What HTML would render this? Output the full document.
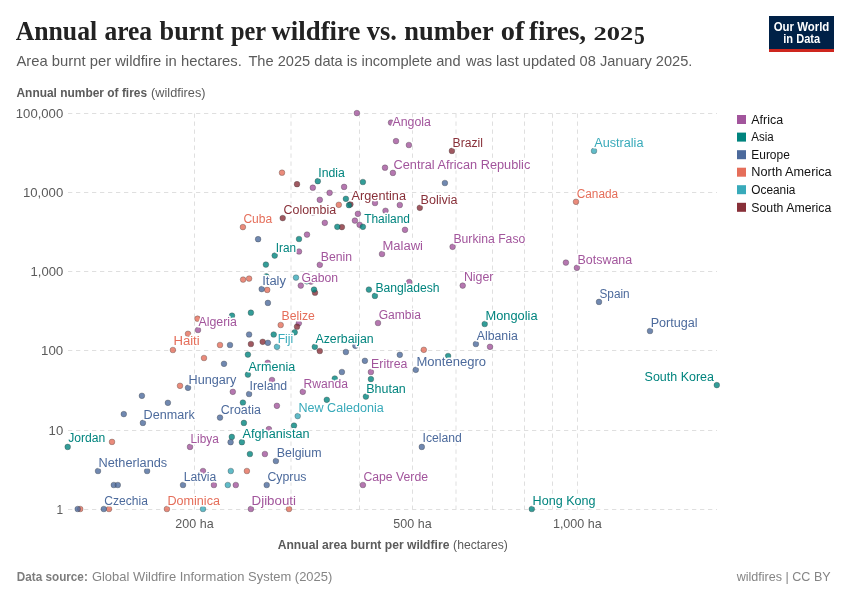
<!DOCTYPE html>
<html lang="en"><head><meta charset="utf-8"><title>Annual area burnt per wildfire vs. number of fires, 2025</title>
<style>
html,body{margin:0;padding:0;background:#fff}
svg{display:block}
text{font-family:"Liberation Sans",Arial,sans-serif}
.t,.t text{font-family:"Liberation Serif","Times New Roman",serif;font-weight:700}
.lb{font-size:12px;stroke:#fff;stroke-width:3px;stroke-linejoin:round;paint-order:stroke fill}
.g{stroke:#dfdfdf;stroke-width:1;stroke-dasharray:4.3 3.7;fill:none}
.tk{font-size:13.6px;fill:#5b5b5b}
.lg{font-size:12.5px;fill:#111}
</style></head><body>
<svg width="850" height="600" viewBox="0 0 850 600">
<rect width="850" height="600" fill="#fff"/>
<g class="t" font-size="27" fill="#222"><text x="15.7" y="40.2" textLength="81.5" lengthAdjust="spacingAndGlyphs">Annual</text>
<text x="104.4" y="40.2" textLength="47.7" lengthAdjust="spacingAndGlyphs">area</text>
<text x="159.6" y="40.2" textLength="64.1" lengthAdjust="spacingAndGlyphs">burnt</text>
<text x="230.9" y="40.2" textLength="35.2" lengthAdjust="spacingAndGlyphs">per</text>
<text x="271.5" y="40.2" textLength="88.8" lengthAdjust="spacingAndGlyphs">wildfire</text>
<text x="366.7" y="40.2" textLength="30.1" lengthAdjust="spacingAndGlyphs">vs.</text>
<text x="404.3" y="40.2" textLength="89.5" lengthAdjust="spacingAndGlyphs">number</text>
<text x="500.7" y="40.2" textLength="23.7" lengthAdjust="spacingAndGlyphs">of</text>
<text x="529.0" y="40.2" textLength="57.1" lengthAdjust="spacingAndGlyphs">fires,</text>
<text x="593.4" y="40.2" font-size="19.4" textLength="39.8" lengthAdjust="spacingAndGlyphs">202</text><text x="634" y="43.6" font-size="24.6" textLength="10.8" lengthAdjust="spacingAndGlyphs">5</text></g>
<g font-size="14.4" fill="#5b5b5b"><text x="16.5" y="66.4" textLength="225.3" lengthAdjust="spacingAndGlyphs">Area burnt per wildfire in hectares.</text>
<text x="248.4" y="66.4" textLength="212.2" lengthAdjust="spacingAndGlyphs">The 2025 data is incomplete and</text>
<text x="466" y="66.4" textLength="226.4" lengthAdjust="spacingAndGlyphs">was last updated 08 January 2025.</text></g>
<g><rect x="769" y="16" width="65" height="36" fill="#002147"/><rect x="769" y="49" width="65" height="3" fill="#ce261e"/>
<text x="801.5" y="30.8" font-size="12.5" font-weight="700" fill="#fff" text-anchor="middle" textLength="55.6" lengthAdjust="spacingAndGlyphs">Our World</text>
<text x="801.7" y="42.6" font-size="12.5" font-weight="700" fill="#fff" text-anchor="middle" textLength="36.9" lengthAdjust="spacingAndGlyphs">in Data</text></g>
<text x="16.5" y="97" font-size="12.6" fill="#5b5b5b" font-weight="700" textLength="130.6" lengthAdjust="spacingAndGlyphs">Annual number of fires</text>
<text x="151.1" y="97" font-size="12.6" fill="#5b5b5b" textLength="54.4" lengthAdjust="spacingAndGlyphs">(wildfires)</text>
<g class="g"><line x1="68" x2="717" y1="113.5" y2="113.5"/><line x1="68" x2="717" y1="192.5" y2="192.5"/><line x1="68" x2="717" y1="271.5" y2="271.5"/><line x1="68" x2="717" y1="350.5" y2="350.5"/><line x1="68" x2="717" y1="430.5" y2="430.5"/><line x1="68" x2="717" y1="509.5" y2="509.5"/><line x1="194.5" x2="194.5" y1="113.5" y2="509.5"/><line x1="291.0" x2="291.0" y1="113.5" y2="509.5"/><line x1="359.5" x2="359.5" y1="113.5" y2="509.5"/><line x1="412.5" x2="412.5" y1="113.5" y2="509.5"/><line x1="456.0" x2="456.0" y1="113.5" y2="509.5"/><line x1="492.5" x2="492.5" y1="113.5" y2="509.5"/><line x1="524.5" x2="524.5" y1="113.5" y2="509.5"/><line x1="552.5" x2="552.5" y1="113.5" y2="509.5"/><line x1="577.5" x2="577.5" y1="113.5" y2="509.5"/></g>
<text class="tk" x="15.8" y="118.0" textLength="47.4" lengthAdjust="spacingAndGlyphs">100,000</text>
<text class="tk" x="23.0" y="197.0" textLength="40.2" lengthAdjust="spacingAndGlyphs">10,000</text>
<text class="tk" x="30.5" y="276.0" textLength="32.7" lengthAdjust="spacingAndGlyphs">1,000</text>
<text class="tk" x="41.1" y="355.0" textLength="22.1" lengthAdjust="spacingAndGlyphs">100</text>
<text class="tk" x="48.6" y="435.0" textLength="14.6" lengthAdjust="spacingAndGlyphs">10</text>
<text class="tk" x="56.6" y="514.0" textLength="6.6" lengthAdjust="spacingAndGlyphs">1</text>
<text class="tk" x="175.3" y="527.5" textLength="38.3" lengthAdjust="spacingAndGlyphs">200 ha</text>
<text class="tk" x="393.3" y="527.5" textLength="38.3" lengthAdjust="spacingAndGlyphs">500 ha</text>
<text class="tk" x="552.9" y="527.5" textLength="48.9" lengthAdjust="spacingAndGlyphs">1,000 ha</text>
<text x="277.7" y="548.8" font-size="12.6" fill="#5b5b5b" font-weight="700" textLength="171.7" lengthAdjust="spacingAndGlyphs">Annual area burnt per wildfire</text>
<text x="453.1" y="548.8" font-size="12.6" fill="#5b5b5b" textLength="54.7" lengthAdjust="spacingAndGlyphs">(hectares)</text>
<g stroke-width="0.6" stroke="#3a3a3a" stroke-opacity="0.55"><circle cx="356.9" cy="113.1" r="2.85" fill="#a2559c" fill-opacity="0.8"/>
<circle cx="391" cy="122.6" r="2.85" fill="#a2559c" fill-opacity="0.8"/>
<circle cx="396" cy="141.1" r="2.85" fill="#a2559c" fill-opacity="0.8"/>
<circle cx="408.9" cy="145" r="2.85" fill="#a2559c" fill-opacity="0.8"/>
<circle cx="385" cy="167.7" r="2.85" fill="#a2559c" fill-opacity="0.8"/>
<circle cx="392.9" cy="172.9" r="2.85" fill="#a2559c" fill-opacity="0.8"/>
<circle cx="312.8" cy="187.7" r="2.85" fill="#a2559c" fill-opacity="0.8"/>
<circle cx="344.1" cy="186.9" r="2.85" fill="#a2559c" fill-opacity="0.8"/>
<circle cx="329.6" cy="192.8" r="2.85" fill="#a2559c" fill-opacity="0.8"/>
<circle cx="319.8" cy="199.8" r="2.85" fill="#a2559c" fill-opacity="0.8"/>
<circle cx="375" cy="203" r="2.85" fill="#a2559c" fill-opacity="0.8"/>
<circle cx="385.5" cy="210.8" r="2.85" fill="#a2559c" fill-opacity="0.8"/>
<circle cx="399.8" cy="205" r="2.85" fill="#a2559c" fill-opacity="0.8"/>
<circle cx="357.9" cy="213.8" r="2.85" fill="#a2559c" fill-opacity="0.8"/>
<circle cx="324.8" cy="222.8" r="2.85" fill="#a2559c" fill-opacity="0.8"/>
<circle cx="313" cy="212.6" r="2.85" fill="#a2559c" fill-opacity="0.8"/>
<circle cx="354.9" cy="220.6" r="2.85" fill="#a2559c" fill-opacity="0.8"/>
<circle cx="359.6" cy="224.8" r="2.85" fill="#a2559c" fill-opacity="0.8"/>
<circle cx="405" cy="229.8" r="2.85" fill="#a2559c" fill-opacity="0.8"/>
<circle cx="307" cy="234.6" r="2.85" fill="#a2559c" fill-opacity="0.8"/>
<circle cx="299" cy="251.5" r="2.85" fill="#a2559c" fill-opacity="0.8"/>
<circle cx="382" cy="254" r="2.85" fill="#a2559c" fill-opacity="0.8"/>
<circle cx="319.8" cy="264.8" r="2.85" fill="#a2559c" fill-opacity="0.8"/>
<circle cx="300.8" cy="285.6" r="2.85" fill="#a2559c" fill-opacity="0.8"/>
<circle cx="311" cy="281.6" r="2.85" fill="#a2559c" fill-opacity="0.8"/>
<circle cx="409.2" cy="282" r="2.85" fill="#a2559c" fill-opacity="0.8"/>
<circle cx="298.8" cy="323.3" r="2.85" fill="#a2559c" fill-opacity="0.8"/>
<circle cx="378" cy="323" r="2.85" fill="#a2559c" fill-opacity="0.8"/>
<circle cx="267.7" cy="362.8" r="2.85" fill="#a2559c" fill-opacity="0.8"/>
<circle cx="370.9" cy="372" r="2.85" fill="#a2559c" fill-opacity="0.8"/>
<circle cx="272" cy="380" r="2.85" fill="#a2559c" fill-opacity="0.8"/>
<circle cx="452.6" cy="246.8" r="2.85" fill="#a2559c" fill-opacity="0.8"/>
<circle cx="565.9" cy="262.6" r="2.85" fill="#a2559c" fill-opacity="0.8"/>
<circle cx="576.9" cy="267.8" r="2.85" fill="#a2559c" fill-opacity="0.8"/>
<circle cx="462.7" cy="285.6" r="2.85" fill="#a2559c" fill-opacity="0.8"/>
<circle cx="490" cy="346.8" r="2.85" fill="#a2559c" fill-opacity="0.8"/>
<circle cx="198" cy="330" r="2.85" fill="#a2559c" fill-opacity="0.8"/>
<circle cx="190" cy="446.9" r="2.85" fill="#a2559c" fill-opacity="0.8"/>
<circle cx="203" cy="471" r="2.85" fill="#a2559c" fill-opacity="0.8"/>
<circle cx="213.9" cy="485" r="2.85" fill="#a2559c" fill-opacity="0.8"/>
<circle cx="232.8" cy="391.8" r="2.85" fill="#a2559c" fill-opacity="0.8"/>
<circle cx="302.8" cy="391.8" r="2.85" fill="#a2559c" fill-opacity="0.8"/>
<circle cx="276.9" cy="405.8" r="2.85" fill="#a2559c" fill-opacity="0.8"/>
<circle cx="268.9" cy="429.1" r="2.85" fill="#a2559c" fill-opacity="0.8"/>
<circle cx="264.9" cy="454" r="2.85" fill="#a2559c" fill-opacity="0.8"/>
<circle cx="235.8" cy="485" r="2.85" fill="#a2559c" fill-opacity="0.8"/>
<circle cx="362.9" cy="485" r="2.85" fill="#a2559c" fill-opacity="0.8"/>
<circle cx="250.9" cy="509" r="2.85" fill="#a2559c" fill-opacity="0.8"/>
<circle cx="282" cy="172.7" r="2.85" fill="#e56e5a" fill-opacity="0.8"/>
<circle cx="338.8" cy="204.8" r="2.85" fill="#e56e5a" fill-opacity="0.8"/>
<circle cx="242.9" cy="227.1" r="2.85" fill="#e56e5a" fill-opacity="0.8"/>
<circle cx="243.1" cy="279.6" r="2.85" fill="#e56e5a" fill-opacity="0.8"/>
<circle cx="249.1" cy="278.6" r="2.85" fill="#e56e5a" fill-opacity="0.8"/>
<circle cx="267.2" cy="289.9" r="2.85" fill="#e56e5a" fill-opacity="0.8"/>
<circle cx="280.7" cy="325" r="2.85" fill="#e56e5a" fill-opacity="0.8"/>
<circle cx="220" cy="345" r="2.85" fill="#e56e5a" fill-opacity="0.8"/>
<circle cx="197.5" cy="318.7" r="2.85" fill="#e56e5a" fill-opacity="0.8"/>
<circle cx="188" cy="333.8" r="2.85" fill="#e56e5a" fill-opacity="0.8"/>
<circle cx="172.9" cy="350" r="2.85" fill="#e56e5a" fill-opacity="0.8"/>
<circle cx="204" cy="358" r="2.85" fill="#e56e5a" fill-opacity="0.8"/>
<circle cx="576" cy="201.8" r="2.85" fill="#e56e5a" fill-opacity="0.8"/>
<circle cx="423.8" cy="349.8" r="2.85" fill="#e56e5a" fill-opacity="0.8"/>
<circle cx="180" cy="385.8" r="2.85" fill="#e56e5a" fill-opacity="0.8"/>
<circle cx="112" cy="441.9" r="2.85" fill="#e56e5a" fill-opacity="0.8"/>
<circle cx="80.2" cy="509" r="2.85" fill="#e56e5a" fill-opacity="0.8"/>
<circle cx="109" cy="509" r="2.85" fill="#e56e5a" fill-opacity="0.8"/>
<circle cx="166.9" cy="509" r="2.85" fill="#e56e5a" fill-opacity="0.8"/>
<circle cx="246.9" cy="471" r="2.85" fill="#e56e5a" fill-opacity="0.8"/>
<circle cx="289" cy="509" r="2.85" fill="#e56e5a" fill-opacity="0.8"/>
<circle cx="594" cy="150.9" r="2.85" fill="#38aaba" fill-opacity="0.8"/>
<circle cx="296" cy="277.6" r="2.85" fill="#38aaba" fill-opacity="0.8"/>
<circle cx="277" cy="346.8" r="2.85" fill="#38aaba" fill-opacity="0.8"/>
<circle cx="297.7" cy="416.1" r="2.85" fill="#38aaba" fill-opacity="0.8"/>
<circle cx="230.8" cy="471" r="2.85" fill="#38aaba" fill-opacity="0.8"/>
<circle cx="227.8" cy="485" r="2.85" fill="#38aaba" fill-opacity="0.8"/>
<circle cx="203" cy="509" r="2.85" fill="#38aaba" fill-opacity="0.8"/>
<circle cx="297" cy="184.2" r="2.85" fill="#883039" fill-opacity="0.8"/>
<circle cx="350.4" cy="204.3" r="2.85" fill="#883039" fill-opacity="0.8"/>
<circle cx="282.7" cy="218.1" r="2.85" fill="#883039" fill-opacity="0.8"/>
<circle cx="341.9" cy="227.1" r="2.85" fill="#883039" fill-opacity="0.8"/>
<circle cx="315" cy="292.7" r="2.85" fill="#883039" fill-opacity="0.8"/>
<circle cx="297" cy="326.7" r="2.85" fill="#883039" fill-opacity="0.8"/>
<circle cx="250.9" cy="344" r="2.85" fill="#883039" fill-opacity="0.8"/>
<circle cx="262.7" cy="341.8" r="2.85" fill="#883039" fill-opacity="0.8"/>
<circle cx="319.8" cy="351" r="2.85" fill="#883039" fill-opacity="0.8"/>
<circle cx="451.9" cy="150.9" r="2.85" fill="#883039" fill-opacity="0.8"/>
<circle cx="419.8" cy="207.8" r="2.85" fill="#883039" fill-opacity="0.8"/>
<circle cx="317.8" cy="181.2" r="2.85" fill="#00847e" fill-opacity="0.8"/>
<circle cx="362.9" cy="182" r="2.85" fill="#00847e" fill-opacity="0.8"/>
<circle cx="345.9" cy="198.8" r="2.85" fill="#00847e" fill-opacity="0.8"/>
<circle cx="349" cy="205.2" r="2.85" fill="#00847e" fill-opacity="0.8"/>
<circle cx="337.3" cy="226.8" r="2.85" fill="#00847e" fill-opacity="0.8"/>
<circle cx="362.9" cy="226.8" r="2.85" fill="#00847e" fill-opacity="0.8"/>
<circle cx="299" cy="239" r="2.85" fill="#00847e" fill-opacity="0.8"/>
<circle cx="274.7" cy="255.6" r="2.85" fill="#00847e" fill-opacity="0.8"/>
<circle cx="265.9" cy="264.6" r="2.85" fill="#00847e" fill-opacity="0.8"/>
<circle cx="266.3" cy="276.3" r="2.85" fill="#00847e" fill-opacity="0.8"/>
<circle cx="306.8" cy="281.3" r="2.85" fill="#00847e" fill-opacity="0.8"/>
<circle cx="314" cy="289.6" r="2.85" fill="#00847e" fill-opacity="0.8"/>
<circle cx="368.9" cy="289.6" r="2.85" fill="#00847e" fill-opacity="0.8"/>
<circle cx="374.9" cy="295.9" r="2.85" fill="#00847e" fill-opacity="0.8"/>
<circle cx="232" cy="315.7" r="2.85" fill="#00847e" fill-opacity="0.8"/>
<circle cx="250.9" cy="312.7" r="2.85" fill="#00847e" fill-opacity="0.8"/>
<circle cx="294.7" cy="332.3" r="2.85" fill="#00847e" fill-opacity="0.8"/>
<circle cx="273.7" cy="334.5" r="2.85" fill="#00847e" fill-opacity="0.8"/>
<circle cx="314.8" cy="346.8" r="2.85" fill="#00847e" fill-opacity="0.8"/>
<circle cx="247.9" cy="354.6" r="2.85" fill="#00847e" fill-opacity="0.8"/>
<circle cx="247.9" cy="374.6" r="2.85" fill="#00847e" fill-opacity="0.8"/>
<circle cx="334.8" cy="378.5" r="2.85" fill="#00847e" fill-opacity="0.8"/>
<circle cx="370.9" cy="379.1" r="2.85" fill="#00847e" fill-opacity="0.8"/>
<circle cx="484.7" cy="324" r="2.85" fill="#00847e" fill-opacity="0.8"/>
<circle cx="448.1" cy="356" r="2.85" fill="#00847e" fill-opacity="0.8"/>
<circle cx="67.7" cy="446.9" r="2.85" fill="#00847e" fill-opacity="0.8"/>
<circle cx="365.9" cy="396.6" r="2.85" fill="#00847e" fill-opacity="0.8"/>
<circle cx="326.8" cy="399.8" r="2.85" fill="#00847e" fill-opacity="0.8"/>
<circle cx="242.9" cy="402.6" r="2.85" fill="#00847e" fill-opacity="0.8"/>
<circle cx="243.9" cy="422.9" r="2.85" fill="#00847e" fill-opacity="0.8"/>
<circle cx="294" cy="425.6" r="2.85" fill="#00847e" fill-opacity="0.8"/>
<circle cx="231.8" cy="436.9" r="2.85" fill="#00847e" fill-opacity="0.8"/>
<circle cx="241.9" cy="442.2" r="2.85" fill="#00847e" fill-opacity="0.8"/>
<circle cx="249.9" cy="454" r="2.85" fill="#00847e" fill-opacity="0.8"/>
<circle cx="531.8" cy="509" r="2.85" fill="#00847e" fill-opacity="0.8"/>
<circle cx="716.8" cy="385.1" r="2.85" fill="#00847e" fill-opacity="0.8"/>
<circle cx="258.1" cy="239.2" r="2.85" fill="#4c6a9c" fill-opacity="0.8"/>
<circle cx="444.9" cy="183" r="2.85" fill="#4c6a9c" fill-opacity="0.8"/>
<circle cx="261.7" cy="289.1" r="2.85" fill="#4c6a9c" fill-opacity="0.8"/>
<circle cx="267.9" cy="302.9" r="2.85" fill="#4c6a9c" fill-opacity="0.8"/>
<circle cx="249.1" cy="334.5" r="2.85" fill="#4c6a9c" fill-opacity="0.8"/>
<circle cx="230" cy="345" r="2.85" fill="#4c6a9c" fill-opacity="0.8"/>
<circle cx="267.9" cy="342.8" r="2.85" fill="#4c6a9c" fill-opacity="0.8"/>
<circle cx="355.4" cy="345.8" r="2.85" fill="#4c6a9c" fill-opacity="0.8"/>
<circle cx="345.9" cy="352" r="2.85" fill="#4c6a9c" fill-opacity="0.8"/>
<circle cx="399.8" cy="354.8" r="2.85" fill="#4c6a9c" fill-opacity="0.8"/>
<circle cx="224" cy="363.8" r="2.85" fill="#4c6a9c" fill-opacity="0.8"/>
<circle cx="364.9" cy="360.8" r="2.85" fill="#4c6a9c" fill-opacity="0.8"/>
<circle cx="341.9" cy="372" r="2.85" fill="#4c6a9c" fill-opacity="0.8"/>
<circle cx="599" cy="301.9" r="2.85" fill="#4c6a9c" fill-opacity="0.8"/>
<circle cx="475.9" cy="344" r="2.85" fill="#4c6a9c" fill-opacity="0.8"/>
<circle cx="415.8" cy="369.8" r="2.85" fill="#4c6a9c" fill-opacity="0.8"/>
<circle cx="650" cy="331" r="2.85" fill="#4c6a9c" fill-opacity="0.8"/>
<circle cx="188" cy="387.8" r="2.85" fill="#4c6a9c" fill-opacity="0.8"/>
<circle cx="141.9" cy="395.8" r="2.85" fill="#4c6a9c" fill-opacity="0.8"/>
<circle cx="167.9" cy="402.8" r="2.85" fill="#4c6a9c" fill-opacity="0.8"/>
<circle cx="123.8" cy="414.1" r="2.85" fill="#4c6a9c" fill-opacity="0.8"/>
<circle cx="142.9" cy="422.9" r="2.85" fill="#4c6a9c" fill-opacity="0.8"/>
<circle cx="98" cy="471" r="2.85" fill="#4c6a9c" fill-opacity="0.8"/>
<circle cx="147.1" cy="471" r="2.85" fill="#4c6a9c" fill-opacity="0.8"/>
<circle cx="113.8" cy="485" r="2.85" fill="#4c6a9c" fill-opacity="0.8"/>
<circle cx="117.8" cy="485" r="2.85" fill="#4c6a9c" fill-opacity="0.8"/>
<circle cx="183" cy="485" r="2.85" fill="#4c6a9c" fill-opacity="0.8"/>
<circle cx="77.7" cy="509" r="2.85" fill="#4c6a9c" fill-opacity="0.8"/>
<circle cx="103.8" cy="509" r="2.85" fill="#4c6a9c" fill-opacity="0.8"/>
<circle cx="249.1" cy="394" r="2.85" fill="#4c6a9c" fill-opacity="0.8"/>
<circle cx="220" cy="417.6" r="2.85" fill="#4c6a9c" fill-opacity="0.8"/>
<circle cx="230.6" cy="442.2" r="2.85" fill="#4c6a9c" fill-opacity="0.8"/>
<circle cx="275.9" cy="461" r="2.85" fill="#4c6a9c" fill-opacity="0.8"/>
<circle cx="266.7" cy="485" r="2.85" fill="#4c6a9c" fill-opacity="0.8"/>
<circle cx="421.8" cy="446.9" r="2.85" fill="#4c6a9c" fill-opacity="0.8"/></g>
<g class="lb"><text x="392.5" y="125.5" fill="#a2559c" textLength="38.5" lengthAdjust="spacingAndGlyphs">Angola</text>
<text x="393.5" y="168.7" fill="#a2559c" textLength="136.8" lengthAdjust="spacingAndGlyphs">Central African Republic</text>
<text x="382.5" y="249.8" fill="#a2559c" textLength="40.5" lengthAdjust="spacingAndGlyphs">Malawi</text>
<text x="453.4" y="242.5" fill="#a2559c" textLength="71.9" lengthAdjust="spacingAndGlyphs">Burkina Faso</text>
<text x="320.8" y="260.8" fill="#a2559c" textLength="31.3" lengthAdjust="spacingAndGlyphs">Benin</text>
<text x="577.5" y="263.6" fill="#a2559c" textLength="54.7" lengthAdjust="spacingAndGlyphs">Botswana</text>
<text x="301.5" y="282.0" fill="#a2559c" textLength="36.6" lengthAdjust="spacingAndGlyphs">Gabon</text>
<text x="463.9" y="281.4" fill="#a2559c" textLength="29.6" lengthAdjust="spacingAndGlyphs">Niger</text>
<text x="378.7" y="319.1" fill="#a2559c" textLength="42.3" lengthAdjust="spacingAndGlyphs">Gambia</text>
<text x="198.5" y="326" fill="#a2559c" textLength="38.5" lengthAdjust="spacingAndGlyphs">Algeria</text>
<text x="371.1" y="367.9" fill="#a2559c" textLength="36.3" lengthAdjust="spacingAndGlyphs">Eritrea</text>
<text x="303.5" y="387.7" fill="#a2559c" textLength="44.4" lengthAdjust="spacingAndGlyphs">Rwanda</text>
<text x="190.5" y="442.9" fill="#a2559c" textLength="28.3" lengthAdjust="spacingAndGlyphs">Libya</text>
<text x="363.4" y="480.5" fill="#a2559c" textLength="64.6" lengthAdjust="spacingAndGlyphs">Cape Verde</text>
<text x="251.6" y="504.5" fill="#a2559c" textLength="44.4" lengthAdjust="spacingAndGlyphs">Djibouti</text>
<text x="318.3" y="176.5" fill="#00847e" textLength="26.6" lengthAdjust="spacingAndGlyphs">India</text>
<text x="364.2" y="222.8" fill="#00847e" textLength="45.8" lengthAdjust="spacingAndGlyphs">Thailand</text>
<text x="275.7" y="251.8" fill="#00847e" textLength="20.3" lengthAdjust="spacingAndGlyphs">Iran</text>
<text x="375.4" y="292.3" fill="#00847e" textLength="64.2" lengthAdjust="spacingAndGlyphs">Bangladesh</text>
<text x="485.5" y="319.5" fill="#00847e" textLength="52.1" lengthAdjust="spacingAndGlyphs">Mongolia</text>
<text x="315.5" y="343.1" fill="#00847e" textLength="58.2" lengthAdjust="spacingAndGlyphs">Azerbaijan</text>
<text x="248.4" y="370.7" fill="#00847e" textLength="46.8" lengthAdjust="spacingAndGlyphs">Armenia</text>
<text x="644.6" y="380.9" fill="#00847e" textLength="69.4" lengthAdjust="spacingAndGlyphs">South Korea</text>
<text x="366.2" y="392.6" fill="#00847e" textLength="39.6" lengthAdjust="spacingAndGlyphs">Bhutan</text>
<text x="242.6" y="438.3" fill="#00847e" textLength="66.9" lengthAdjust="spacingAndGlyphs">Afghanistan</text>
<text x="68.2" y="442.4" fill="#00847e" textLength="37.1" lengthAdjust="spacingAndGlyphs">Jordan</text>
<text x="532.6" y="504.5" fill="#00847e" textLength="62.9" lengthAdjust="spacingAndGlyphs">Hong Kong</text>
<text x="262.2" y="284.6" fill="#4c6a9c" textLength="23.8" lengthAdjust="spacingAndGlyphs">Italy</text>
<text x="599.5" y="297.7" fill="#4c6a9c" textLength="30.2" lengthAdjust="spacingAndGlyphs">Spain</text>
<text x="650.7" y="326.7" fill="#4c6a9c" textLength="46.9" lengthAdjust="spacingAndGlyphs">Portugal</text>
<text x="476.7" y="339.8" fill="#4c6a9c" textLength="41.1" lengthAdjust="spacingAndGlyphs">Albania</text>
<text x="416.5" y="366" fill="#4c6a9c" textLength="69.5" lengthAdjust="spacingAndGlyphs">Montenegro</text>
<text x="188.5" y="383.6" fill="#4c6a9c" textLength="47.8" lengthAdjust="spacingAndGlyphs">Hungary</text>
<text x="249.6" y="389.5" fill="#4c6a9c" textLength="37.6" lengthAdjust="spacingAndGlyphs">Ireland</text>
<text x="220.8" y="413.5" fill="#4c6a9c" textLength="40.1" lengthAdjust="spacingAndGlyphs">Croatia</text>
<text x="143.6" y="419" fill="#4c6a9c" textLength="51.1" lengthAdjust="spacingAndGlyphs">Denmark</text>
<text x="422.6" y="442.4" fill="#4c6a9c" textLength="39.3" lengthAdjust="spacingAndGlyphs">Iceland</text>
<text x="276.7" y="456.5" fill="#4c6a9c" textLength="44.9" lengthAdjust="spacingAndGlyphs">Belgium</text>
<text x="98.5" y="466.5" fill="#4c6a9c" textLength="68.7" lengthAdjust="spacingAndGlyphs">Netherlands</text>
<text x="183.7" y="480.5" fill="#4c6a9c" textLength="32.6" lengthAdjust="spacingAndGlyphs">Latvia</text>
<text x="267.4" y="480.5" fill="#4c6a9c" textLength="39.1" lengthAdjust="spacingAndGlyphs">Cyprus</text>
<text x="104.3" y="504.5" fill="#4c6a9c" textLength="43.6" lengthAdjust="spacingAndGlyphs">Czechia</text>
<text x="576.7" y="197.8" fill="#e56e5a" textLength="41.5" lengthAdjust="spacingAndGlyphs">Canada</text>
<text x="243.4" y="222.8" fill="#e56e5a" textLength="28.8" lengthAdjust="spacingAndGlyphs">Cuba</text>
<text x="281.5" y="320.2" fill="#e56e5a" textLength="33.3" lengthAdjust="spacingAndGlyphs">Belize</text>
<text x="173.4" y="345.3" fill="#e56e5a" textLength="26.3" lengthAdjust="spacingAndGlyphs">Haiti</text>
<text x="167.4" y="504.5" fill="#e56e5a" textLength="52.6" lengthAdjust="spacingAndGlyphs">Dominica</text>
<text x="594.2" y="147" fill="#38aaba" textLength="49.3" lengthAdjust="spacingAndGlyphs">Australia</text>
<text x="277.7" y="342.8" fill="#38aaba" textLength="15.5" lengthAdjust="spacingAndGlyphs">Fiji</text>
<text x="298.5" y="411.8" fill="#38aaba" textLength="85.2" lengthAdjust="spacingAndGlyphs">New Caledonia</text>
<text x="452.6" y="146.6" fill="#883039" textLength="30.4" lengthAdjust="spacingAndGlyphs">Brazil</text>
<text x="351.6" y="200.3" fill="#883039" textLength="54.4" lengthAdjust="spacingAndGlyphs">Argentina</text>
<text x="420.5" y="203.5" fill="#883039" textLength="37.1" lengthAdjust="spacingAndGlyphs">Bolivia</text>
<text x="283.5" y="214" fill="#883039" textLength="52.6" lengthAdjust="spacingAndGlyphs">Colombia</text></g>
<rect x="737" y="115.0" width="9" height="9" fill="#a2559c"/>
<text class="lg" x="751.3" y="123.8" textLength="31.8" lengthAdjust="spacingAndGlyphs">Africa</text>
<rect x="737" y="132.6" width="9" height="9" fill="#00847e"/>
<text class="lg" x="751.3" y="141.3" textLength="22.4" lengthAdjust="spacingAndGlyphs">Asia</text>
<rect x="737" y="150.2" width="9" height="9" fill="#4c6a9c"/>
<text class="lg" x="751.3" y="158.8" textLength="38.5" lengthAdjust="spacingAndGlyphs">Europe</text>
<rect x="737" y="167.7" width="9" height="9" fill="#e56e5a"/>
<text class="lg" x="751.3" y="176.4" textLength="80.3" lengthAdjust="spacingAndGlyphs">North America</text>
<rect x="737" y="185.2" width="9" height="9" fill="#38aaba"/>
<text class="lg" x="751.3" y="193.9" textLength="44.1" lengthAdjust="spacingAndGlyphs">Oceania</text>
<rect x="737" y="202.8" width="9" height="9" fill="#883039"/>
<text class="lg" x="751.3" y="211.5" textLength="80" lengthAdjust="spacingAndGlyphs">South America</text>
<text x="16.8" y="580.7" font-size="12.5" fill="#7d7d7d" font-weight="700" textLength="71" lengthAdjust="spacingAndGlyphs">Data source:</text>
<text x="91.9" y="580.7" font-size="13" fill="#858585" textLength="240.4" lengthAdjust="spacingAndGlyphs">Global Wildfire Information System (2025)</text>
<text x="736.7" y="580.7" font-size="13" fill="#858585" textLength="94" lengthAdjust="spacingAndGlyphs">wildfires | CC BY</text>
</svg></body></html>
